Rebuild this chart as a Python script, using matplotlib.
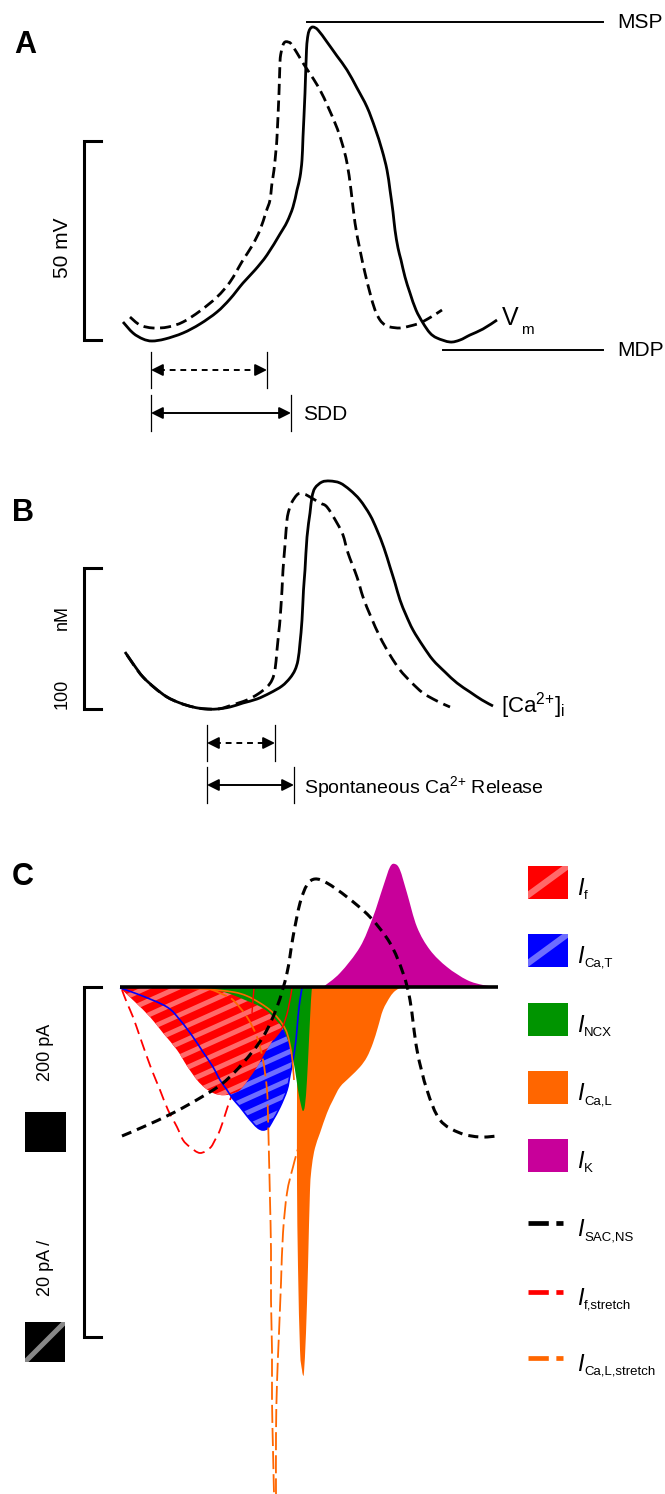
import numpy as np
import matplotlib
matplotlib.use('Agg')
import matplotlib.pyplot as plt
from matplotlib.path import Path
from matplotlib.patches import PathPatch, Rectangle

plt.rcParams['font.family'] = ['Liberation Sans', 'DejaVu Sans']
plt.rcParams['mathtext.fontset'] = 'custom'
plt.rcParams['mathtext.rm'] = 'Liberation Sans'
plt.rcParams['mathtext.it'] = 'Liberation Sans:italic'

# Panel A: membrane potential, control (solid) and stretch (dashed)
vm_ctrl_x = [123, 133, 143, 152, 165, 183, 200, 217, 230, 243, 255, 267, 280, 287, 293, 297,
             300, 302, 303, 305, 306.5, 308, 310, 313, 318, 327, 337, 347, 357, 367, 375, 382,
             387, 390, 393, 395, 398, 401, 405, 410, 416, 423, 430, 437, 450, 460, 470, 483, 497]
vm_ctrl_y = [322, 333, 339, 341, 339, 333, 324, 312, 299, 283, 270, 255, 234, 222, 207, 190,
             177, 160, 137, 93, 50, 35, 29, 27, 30, 42, 56, 70, 88, 107, 128, 150,
             170, 190, 212, 230, 248, 260, 277, 293, 310, 323, 333, 338, 342, 340, 335, 329, 320]
vm_str_x = [130, 140, 153, 168, 183, 200, 217, 230, 243, 252, 260, 266, 270, 272, 274, 276, 277,
            279, 280, 281, 283, 285, 288, 292, 303, 320, 335, 342, 347, 351, 355, 360, 365, 370,
            375, 380, 385, 390, 400, 410, 420, 431, 442]
vm_str_y = [317, 325, 328, 327, 322, 311, 297, 282, 260, 246, 230, 212, 200, 183, 170, 150, 137,
            93, 62, 53, 45, 42, 42, 45, 63, 90, 123, 143, 163, 190, 223, 250, 273, 293,
            310, 320, 325, 327, 328, 326, 323, 317, 310]

# Panel B: intracellular Ca2+
ca_ctrl_x = [125, 134, 143, 155, 167, 180, 193, 205, 217, 230, 243, 257, 270, 282, 290, 295, 298,
             300, 302, 303.5, 305, 307, 310, 312, 315, 322, 330, 340, 350, 360, 370, 377, 384, 390,
             395, 400, 406, 413, 423, 433, 445, 457, 470, 482, 493]
ca_ctrl_y = [652, 665, 677, 688, 697, 703, 707, 709, 709, 707, 703, 699, 693, 686, 678, 670, 660,
             643, 620, 590, 570, 537, 513, 497, 488, 482, 481, 483, 490, 500, 515, 530, 548, 567,
             583, 600, 615, 630, 646, 660, 672, 683, 692, 700, 706]
ca_str_x = [127, 143, 167, 193, 217, 232, 247, 258, 267, 272, 275, 277, 279, 280, 282, 283, 285,
            287, 289, 292, 298, 304, 310, 320, 327, 337, 343, 348, 357, 363, 371, 380, 390, 400,
            411, 423, 437, 450]
ca_str_y = [655, 677, 697, 707, 709, 705, 700, 694, 687, 680, 670, 650, 630, 620, 590, 570, 545,
            520, 510, 502, 494, 494, 497, 503, 507, 523, 535, 553, 577, 597, 617, 637, 655, 670,
            682, 693, 701, 707]

# Panel C: ionic currents
if_x = [120, 135, 150, 163, 177, 187, 197, 205, 213, 220, 227, 234, 240, 248, 257, 265, 273, 282, 288, 292]
if_y = [988, 1002, 1017, 1033, 1050, 1066, 1080, 1088, 1093, 1095, 1095, 1093, 1090, 1080, 1067,
        1053, 1040, 1028, 1010, 988]
icat_x = [120, 140, 167, 180, 193, 203, 213, 220, 227, 233, 240, 247, 253, 258, 263, 268, 273,
          280, 287, 290, 293, 296, 298, 300, 302]
icat_y = [988, 995, 1007, 1020, 1037, 1052, 1067, 1080, 1090, 1099, 1107, 1116, 1123, 1128, 1130,
          1128, 1120, 1107, 1090, 1075, 1060, 1040, 1017, 1000, 988]
incx_x = [203, 220, 233, 245, 257, 267, 273, 282, 287, 291, 295, 298, 301, 303, 305, 307, 309, 311, 312]
incx_y = [988, 991, 995, 1000, 1005, 1011, 1017, 1027, 1038, 1050, 1070, 1090, 1105, 1111, 1105,
          1080, 1040, 1000, 988]
ical_x = [297, 297, 297, 298, 300, 302, 303, 304, 306, 308, 310, 312, 315, 320, 327, 333, 340,
          350, 360, 367, 373, 378, 383, 390, 395, 400]
ical_y = [988, 1100, 1183, 1267, 1350, 1370, 1375, 1372, 1333, 1267, 1190, 1165, 1148, 1133, 1113,
          1100, 1087, 1077, 1067, 1057, 1043, 1027, 1010, 997, 991, 988]
ik_x = [323, 340, 360, 373, 383, 390, 395, 400, 407, 417, 430, 447, 467, 483, 497]
ik_y = [987, 973, 947, 917, 887, 867, 864, 870, 893, 927, 950, 967, 980, 985, 987]
isac_x = [122, 143, 173, 200, 223, 243, 263, 277, 287, 293, 300, 307, 315, 327, 347, 370, 390,
          403, 410, 417, 427, 440, 460, 480, 497]
isac_y = [1136, 1127, 1113, 1098, 1083, 1063, 1037, 1007, 973, 937, 903, 885, 879, 883, 897, 917,
          943, 973, 1000, 1050, 1090, 1120, 1133, 1137, 1136]
if_str_x = [122, 127, 133, 140, 147, 153, 160, 168, 177, 183, 190, 200, 210, 215, 220, 225, 230,
            235, 240, 247, 253, 260, 267, 272]
if_str_y = [990, 1003, 1017, 1037, 1057, 1073, 1090, 1110, 1127, 1140, 1147, 1153, 1148, 1140,
            1130, 1115, 1100, 1088, 1077, 1060, 1043, 1025, 1007, 990]
ical_str1_x = [210, 222, 233, 247, 257, 263, 267, 268, 269, 270, 271, 271, 272, 272, 273, 274]
ical_str1_y = [989, 994, 1000, 1017, 1037, 1060, 1090, 1117, 1157, 1200, 1250, 1300, 1350, 1400,
               1450, 1494]
ical_str2_x = [370, 350, 330, 313, 300, 293, 287, 283, 281, 279, 277, 276, 276]
ical_str2_y = [988, 1040, 1090, 1113, 1143, 1167, 1193, 1233, 1283, 1333, 1383, 1433, 1494]
ical_ctrl_x = [177, 205, 233, 247, 260, 270, 277, 283, 287, 290, 292, 293, 294]
ical_ctrl_y = [988, 989, 992, 996, 1003, 1010, 1017, 1025, 1033, 1045, 1057, 1067, 1080]
if_ctrl_x = [254, 253, 252]
if_ctrl_y = [988, 1000, 1013]

legend_subs = ['f', 'Ca,T', 'NCX', 'Ca,L', 'K', 'SAC,NS', 'f,stretch', 'Ca,L,stretch']
legend_colors = ['#ff0000', '#0000ff', '#009400', '#ff6600', '#c8009a', 'black', '#ff0000', '#ff6600']
legend_y = [882, 950, 1019, 1087, 1155, 1223, 1292, 1358]

RED, BLUE, GREEN, ORANGE, MAGENTA = legend_colors[:5]


def smooth_path(xs, ys, closed=False):
    pts = np.column_stack([xs, ys]).astype(float)
    n = len(pts)
    verts = [pts[0]]
    codes = [Path.MOVETO]
    for i in range(n - 1):
        p0 = pts[max(i - 1, 0)]
        p1 = pts[i]
        p2 = pts[i + 1]
        p3 = pts[min(i + 2, n - 1)]
        verts += [p1 + (p2 - p0) / 6.0, p2 - (p3 - p1) / 6.0, p2]
        codes += [Path.CURVE4] * 3
    if closed:
        verts.append(pts[0])
        codes.append(Path.CLOSEPOLY)
    return Path(verts, codes)


def trace(ax, xs, ys, color='black', lw=2.0, dashes=None, z=5):
    ls = '-' if dashes is None else (0, dashes)
    p = PathPatch(smooth_path(xs, ys), fill=False, edgecolor=color, lw=lw,
                  linestyle=ls, zorder=z, capstyle='butt', joinstyle='round')
    ax.add_patch(p)
    return p


def area(ax, xs, ys, color, z):
    p = PathPatch(smooth_path(xs, ys, closed=True), facecolor=color, edgecolor='none', zorder=z)
    ax.add_patch(p)
    return p


def stripes(ax, patch, color, x0, x1, y0, y1, period=14, slope=0.45, lw=3.6):
    for c in np.arange(y0, y1 + (x1 - x0) * slope, period):
        ln, = ax.plot([x0, x1], [c, c - slope * (x1 - x0)], color=color, lw=lw,
                      zorder=patch.get_zorder() + 0.1, solid_capstyle='butt')
        ln.set_clip_path(patch)


def span_arrow(ax, x0, x1, y, dashed):
    for x in (x0, x1):
        ax.plot([x, x], [y - 18, y + 18], color='black', lw=0.9)
    ax.plot([x0 + 8, x1 - 8], [y, y], color='black', lw=1.4,
            linestyle=(0, (3, 2.5)) if dashed else '-')
    for tip, tail in ((x0, x0 + 10), (x1, x1 - 10)):
        ax.annotate('', xy=(tip, y), xytext=(tail, y),
                    arrowprops=dict(arrowstyle='-|>,head_length=0.7,head_width=0.35',
                                    color='black', lw=1.4, shrinkA=0, shrinkB=0))


def bracket(ax, y_top, y_bot, x=84, tick=17):
    ax.plot([x + tick, x, x, x + tick], [y_top, y_top, y_bot, y_bot], color='black', lw=2.2,
            solid_joinstyle='miter')


fig = plt.figure(figsize=(6.65, 14.94), dpi=100)
ax = fig.add_axes([0, 0, 1, 1])
ax.set_xlim(0, 665)
ax.set_ylim(1494, 0)
ax.axis('off')

# ---------------- Panel A ----------------
ax.text(25, 45, 'A', fontsize=22, fontweight='bold', ha='center', va='center')
trace(ax, vm_ctrl_x, vm_ctrl_y, lw=2.0)
trace(ax, vm_str_x, vm_str_y, lw=2.0, dashes=(4, 2))
ax.plot([307, 603], [22, 22], color='black', lw=1.4)
ax.plot([443, 603], [350, 350], color='black', lw=1.4)
ax.text(617, 22, 'MSP', fontsize=15, va='center')
ax.text(617, 351, 'MDP', fontsize=15, va='center')
ax.text(502, 325, 'V', fontsize=18, va='baseline')
ax.text(521, 334, 'm', fontsize=11, va='baseline')
bracket(ax, 141, 340)
ax.text(62, 248, '50 mV', fontsize=15, rotation=90, ha='center', va='center')
span_arrow(ax, 151, 267, 370, dashed=True)
span_arrow(ax, 151, 291, 413, dashed=False)
ax.text(303, 414, 'SDD', fontsize=15, va='center')

# ---------------- Panel B ----------------
ax.text(23, 513, 'B', fontsize=22, fontweight='bold', ha='center', va='center')
trace(ax, ca_ctrl_x, ca_ctrl_y, lw=2.0)
trace(ax, ca_str_x, ca_str_y, lw=2.0, dashes=(4.5, 2.2))
bracket(ax, 568, 709)
ax.text(62, 617, 'nM', fontsize=13, rotation=90, ha='center', va='center')
ax.text(62, 694, '100', fontsize=13, rotation=90, ha='center', va='center')
ax.text(501, 706, r'[Ca$^{2{+}}$]$_{\mathrm{i}}$', fontsize=16, va='center')
span_arrow(ax, 207, 275, 743, dashed=True)
span_arrow(ax, 207, 294, 785, dashed=False)
ax.text(304, 787, r'Spontaneous Ca$^{2{+}}$ Release', fontsize=14, va='center')

# ---------------- Panel C ----------------
ax.text(23, 877, 'C', fontsize=22, fontweight='bold', ha='center', va='center')
trace(ax, if_str_x, if_str_y, color=RED, lw=1.3, dashes=(6.5, 3.3), z=1)
p_cat = area(ax, icat_x, icat_y, BLUE, 2)
stripes(ax, p_cat, '#6e6eff', 120, 305, 960, 1140)
p_f = area(ax, if_x, if_y, RED, 3)
stripes(ax, p_f, '#ff6a6a', 115, 295, 960, 1100)
area(ax, ical_x, ical_y, ORANGE, 4)
area(ax, incx_x, incx_y, GREEN, 5)
area(ax, ik_x, ik_y, MAGENTA, 5)
trace(ax, icat_x, icat_y, color=BLUE, lw=1.2, z=6)
trace(ax, ical_ctrl_x, ical_ctrl_y, color=ORANGE, lw=1.2, z=6)
trace(ax, if_x[-4:], if_y[-4:], color=RED, lw=1.0, z=6)
trace(ax, if_ctrl_x, if_ctrl_y, color=RED, lw=1.0, z=6)
trace(ax, ical_str1_x, ical_str1_y, color=ORANGE, lw=1.3, dashes=(10, 2.8), z=7)
trace(ax, ical_str2_x, ical_str2_y, color=ORANGE, lw=1.3, dashes=(10, 2.8), z=7)
trace(ax, isac_x, isac_y, color='black', lw=2.2, dashes=(3.3, 2.0), z=8)
ax.plot([120, 498], [987, 987], color='black', lw=2.6, zorder=9, solid_capstyle='butt')

bracket(ax, 987, 1337)
ax.text(45, 1052, '200 pA', fontsize=13, rotation=90, ha='center', va='center')
ax.add_patch(Rectangle((25, 1112), 41, 40, facecolor='black', edgecolor='none'))
ax.text(45, 1268, '20 pA /', fontsize=13, rotation=90, ha='center', va='center')
sq = Rectangle((25, 1322), 40, 40, facecolor='black', edgecolor='none')
ax.add_patch(sq)
ln, = ax.plot([25, 65], [1362, 1322], color='#888888', lw=3.6, solid_capstyle='butt')
ln.set_clip_path(sq)

# legend
stripe_cols = {0: '#ff6a6a', 1: '#6e6eff'}
for i, (sub, col, y) in enumerate(zip(legend_subs, legend_colors, legend_y)):
    if i < 5:
        r = Rectangle((528, y - 16.5), 40, 33, facecolor=col, edgecolor='none')
        ax.add_patch(r)
        if i in stripe_cols:
            sl, = ax.plot([520, 576], [y + 19, y - 22], color=stripe_cols[i], lw=4.5,
                          solid_capstyle='butt')
            sl.set_clip_path(r)
    else:
        ax.plot([528, 563], [y, y], color=col, lw=3.4, linestyle=(0, (4.3, 1.6)),
                solid_capstyle='butt', dash_capstyle='butt')
    ax.text(577, y + 13, 'I', fontsize=17, style='italic', va='baseline')
    ax.text(584, y + 17, sub, fontsize=9.5, va='baseline')

fig.savefig('out.png', dpi=100, facecolor='white')
